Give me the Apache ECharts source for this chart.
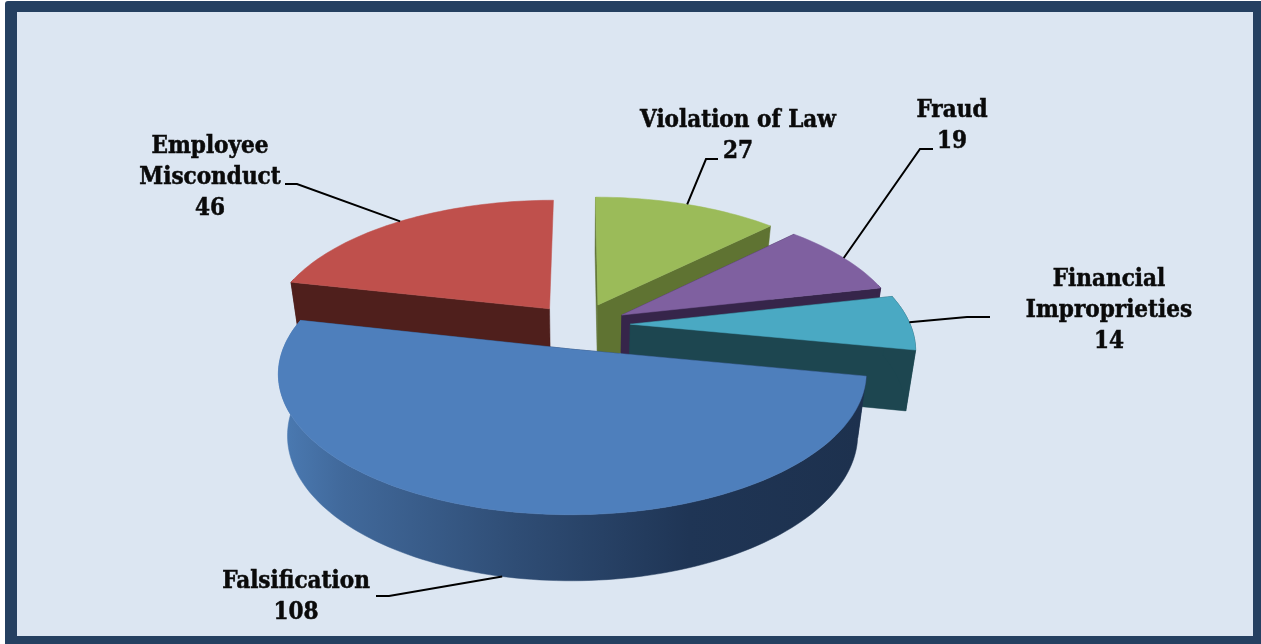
<!DOCTYPE html>
<html><head><meta charset="utf-8">
<style>html,body{margin:0;padding:0;background:#fff}#c{width:1261px;height:644px}</style>
<script src="https://cdn.jsdelivr.net/npm/echarts@6/dist/echarts.min.js"></script>
</head><body><div id="c"></div>
<script>
// Data, clockwise from 12 o'clock
const categories = ['Violation of Law','Fraud','Financial Improprieties','Falsification','Employee Misconduct'];
const values = [27,19,14,108,46];
// Text wrapping of the labels
const labelLines = [['Violation of Law'],['Fraud'],['Financial','Improprieties'],['Falsification'],['Employee','Misconduct']];
// Styles
const topColors = ['#9bbb59','#7f60a0','#4aa9c3','#4e7fbc','#bf504c'];
const wallColors = ['#5f7332','#36254a','#1d4650','#1e3352','#4f1f1c'];
// Layout
const labelCenters = [[738,121],[952,111],[1109,280],[296,582],[210,147]];
const labelElbows = [[[718,159],[706,159]],[[933,149],[920,149]],[[990,317],[967,317]],[[376,596],[389,596]],[[285,184],[297,184]]];
const lineHeight = 31;
const drawOrder = [4,0,1,2,3];
const sliceShift = [[-1,-1],[1,0],[3.5,-0.5],[0,3],[-5,0]];
const sliceScale = [[1,1],[1,1],[1,1],[1.007,0.985],[1.005,1]];
const hideEndWall = [false,false,false,false,true];
const P = {cx:582,cy:325,R:280,Ry:132,p:0.169,explode:0.16,depth:60,shrink:0.03,backLimit:-0.25};

const total = values.reduce((a,b)=>a+b,0);
const slices = []; let acc = 0;
values.forEach((v,i)=>{const a0=acc/total*2*Math.PI; acc+=v; const a1=acc/total*2*Math.PI; slices.push({i,a0,a1,mid:(a0+a1)/2});});

function proj(X,Y,Z){
  const s = 1/(1-P.p*Y);
  const k = 1-P.shrink*Z;
  return [P.cx+P.R*X*s*k, P.cy+P.Ry*Y*s+P.depth*Z*Math.pow(s,0.45)];
}
function pt(sl,r,a,Z){
  const ox=Math.sin(sl.mid)*P.explode, oy=-Math.cos(sl.mid)*P.explode;
  const sc=sliceScale[sl.i], sh=sliceShift[sl.i];
  const q=proj(ox+sc[0]*r*Math.sin(a),oy-sc[1]*r*Math.cos(a),Z);
  return [q[0]+sh[0],q[1]+sh[1]];
}
function rimAngles(sl){const n=Math.max(8,Math.ceil((sl.a1-sl.a0)*40));const o=[];for(let i=0;i<=n;i++){o.push(sl.a0+(sl.a1-sl.a0)*i/n);}return o;}
function poly(points,fill){return {type:'polygon',shape:{points},style:{fill,stroke:fill,lineWidth:0.5}};}

function renderItem(params){
  const i=drawOrder[params.dataIndex], sl=slices[i], wall=wallColors[i];
  const ch=[];
  const apexT=pt(sl,0,0,0), apexB=pt(sl,0,0,1);
  const angles=rimAngles(sl);
  const rT=angles.map(a=>pt(sl,1,a,0));
  const front=angles.filter(a=>-Math.cos(a)>P.backLimit);
  const wallFill = i===3 ? {type:'linear',global:true,x:285,y:0,x2:862,y2:0,colorStops:[
      {offset:0,color:'#4a79b1'},{offset:0.1,color:'#41699b'},{offset:0.4,color:'#2f4d75'},{offset:0.7,color:'#1f3555'},{offset:1,color:'#1d314e'}]} : wall;
  ch.push(poly([apexT,rT[0],pt(sl,1,sl.a0,1),apexB],wall));
  if(!hideEndWall[i]) ch.push(poly([apexT,rT[rT.length-1],pt(sl,1,sl.a1,1),apexB],wall));
  if(front.length>1){
    ch.push(poly(front.map(a=>pt(sl,1,a,0)).concat(front.slice().reverse().map(a=>pt(sl,1,a,1))),wallFill));
  }
  ch.push(poly([apexT].concat(rT),topColors[i]));
  return {type:'group',children:ch};
}
function renderLabel(params){
  const i=params.dataIndex, sl=slices[i], ch=[];
  const lines=labelLines[i].concat([String(values[i])]);
  const c=labelCenters[i];
  lines.forEach((t,k)=>ch.push({type:'text',style:{text:t,x:c[0],y:c[1]+k*lineHeight,align:'center',verticalAlign:'middle',fill:'#0a0a0a',
    stroke:'#0a0a0a',lineWidth:0.5,
    font:'bold 24px "DejaVu Serif Condensed","DejaVu Serif","Liberation Serif",serif'}}));
  const anchor=pt(sl,1,sl.mid,i===3?1:0);
  ch.push({type:'polyline',shape:{points:labelElbows[i].concat([anchor])},style:{fill:'none',stroke:'#000',lineWidth:2}});
  return {type:'group',children:ch};
}
const chart=echarts.init(document.getElementById('c'),null,{renderer:'canvas'});
chart.setOption({
  animation:false,
  backgroundColor:'#fff',
  graphic:[{type:'rect',z:-1,shape:{x:5,y:1,width:1256,height:643,r:[3,0,0,0]},style:{fill:'#254061'}},
           {type:'rect',z:-1,shape:{x:17,y:12,width:1236,height:624},style:{fill:'#dce6f2'}}],
  series:[
    {type:'custom',coordinateSystem:'none',silent:true,renderItem,data:drawOrder.map(i=>({name:categories[i],value:values[i]}))},
    {type:'custom',coordinateSystem:'none',silent:true,renderItem:renderLabel,z:5,data:categories.map((n,i)=>({name:n,value:values[i]}))}
  ]
});
</script></body></html>
